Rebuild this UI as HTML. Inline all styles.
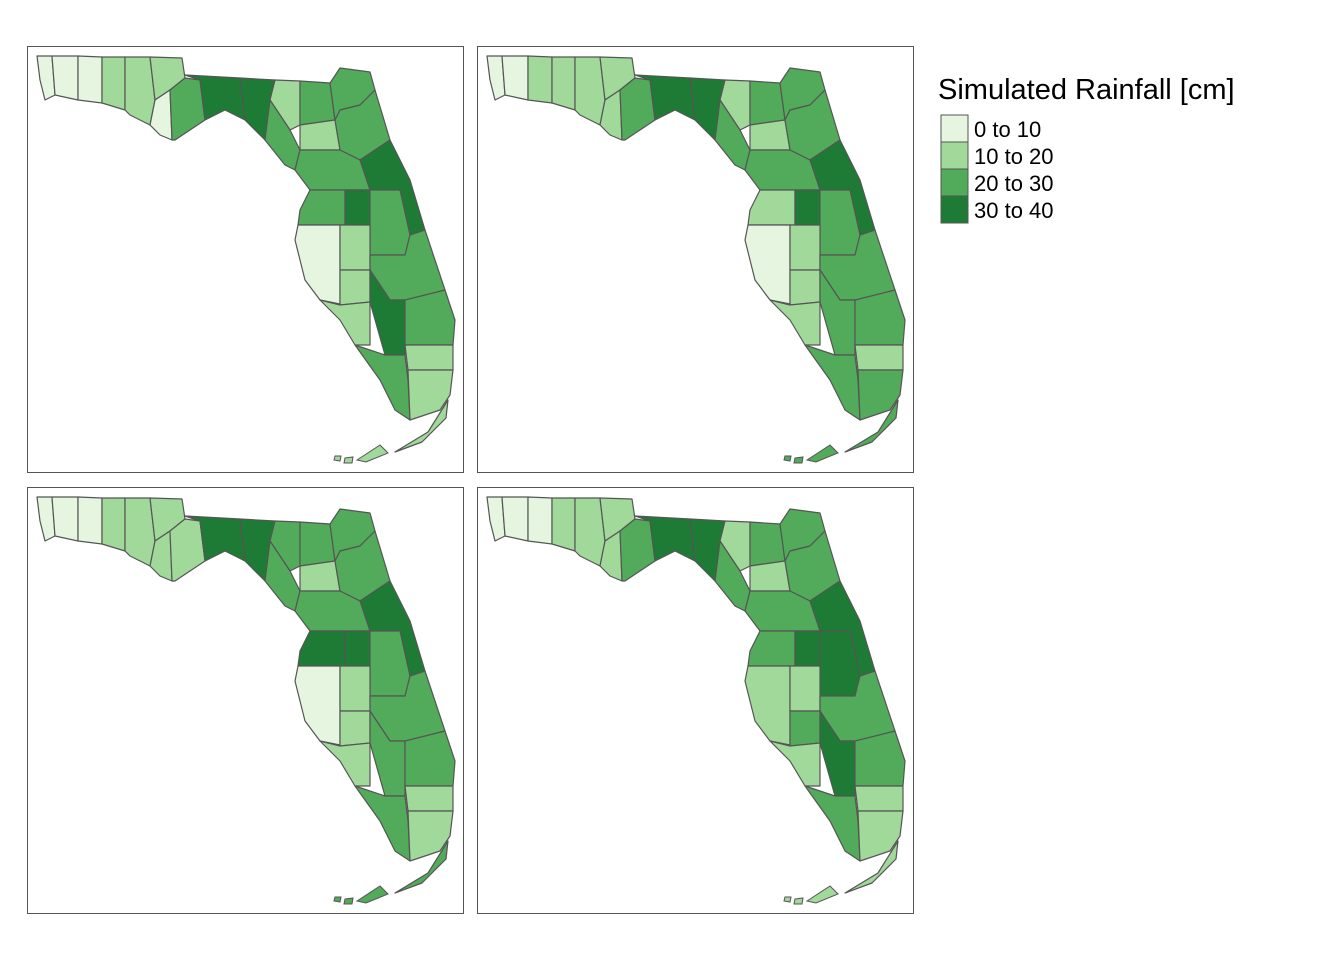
<!DOCTYPE html>
<html><head><meta charset="utf-8">
<style>
body{margin:0;background:#fff;font-family:"Liberation Sans",sans-serif;}
svg{display:block}
</style></head>
<body>
<svg id="chart" width="1344" height="960" viewBox="0 0 1344 960" xmlns="http://www.w3.org/2000/svg">
<rect width="1344" height="960" fill="#fff"/>
<g id="panels"></g>
<g>
<text x="938" y="99" font-size="29" fill="#000">Simulated Rainfall [cm]</text>
<g id="legend-items"></g>
</g>
</svg>
<script>
// Class labels and colours
const classLabels = ["0 to 10","10 to 20","20 to 30","30 to 40"];
const classColors = ["#e5f5e0","#a1d99b","#52ab5a","#1e7b36"];
// Class index per region, per panel (regions listed in the same order as shapes below)
const panel1Values = [0,0,0,1,1,1,0,2,3,3,1,2,2,2,1,2,3,2,2,0,3,2,1,2,1,3,1,2,2,1,1,1];
const panel2Values = [0,0,1,1,1,1,1,2,3,3,1,2,2,2,1,2,3,2,1,0,3,2,1,2,1,2,1,2,2,1,2,2];
const panel3Values = [0,0,0,1,1,1,1,1,3,3,2,2,2,2,1,2,3,2,3,0,3,2,1,2,1,2,1,2,2,1,1,2];
const panel4Values = [0,0,0,1,1,1,1,2,3,3,1,2,2,2,1,2,3,2,2,1,3,3,1,2,2,3,1,2,2,1,1,1];
const panelValues = [panel1Values,panel2Values,panel3Values,panel4Values];

// Region geometry (relative to panel 1 page coords)
const shapes = [
[[37,56],[52,56],[55,95],[45,100],[40,80]],
[[52,56],[78,56],[78,100],[55,95]],
[[78,56],[102,57],[102,103],[78,100]],
[[102,57],[125,57],[125,110],[102,103]],
[[125,57],[150,57],[155,100],[150,125],[130,115],[125,110]],
[[150,57],[182,58],[185,78],[170,90],[155,100]],
[[155,100],[170,90],[172,140],[160,135],[150,125]],
[[170,90],[185,78],[200,80],[205,120],[190,130],[175,140],[172,140]],
[[185,75],[240,78],[245,120],[225,110],[205,120],[200,80]],
[[240,78],[275,80],[270,100],[265,140],[245,120]],
[[275,80],[300,81],[300,125],[290,130],[270,100]],
[[300,81],[330,83],[335,120],[300,125]],
[[330,83],[340,68],[370,72],[375,90],[360,105],[340,110],[335,120]],
[[265,140],[270,100],[290,130],[300,150],[295,170],[285,165]],
[[300,125],[335,120],[340,150],[300,150]],
[[335,120],[340,110],[360,105],[375,90],[390,140],[360,160],[340,150]],
[[360,160],[390,140],[410,180],[425,230],[410,235],[400,190],[370,190]],
[[300,150],[340,150],[360,160],[370,190],[345,190],[310,190],[295,170]],
[[310,190],[345,190],[345,225],[298,225],[300,210]],
[[298,225],[340,225],[340,304],[320,300],[305,280],[295,240]],
[[345,190],[370,190],[370,225],[345,225]],
[[370,190],[400,190],[410,235],[405,255],[370,255],[370,225]],
[[340,225],[370,225],[370,255],[370,270],[340,270]],
[[370,255],[405,255],[410,235],[425,230],[445,290],[410,300],[390,300],[370,270]],
[[340,270],[370,270],[370,302],[340,305]],
[[370,270],[390,300],[405,300],[405,355],[385,355],[370,302]],
[[320,300],[340,305],[370,302],[370,345],[355,345],[340,320]],
[[405,300],[445,290],[455,320],[453,345],[405,345]],
[[355,345],[385,355],[405,355],[408,380],[410,420],[395,410],[380,380]],
[[405,345],[453,345],[453,370],[408,370]],
[[408,370],[453,370],[450,395],[440,410],[410,420]],
[[395,452],[428,432],[448,400],[446,418],[422,442]]
];
const keyShapes = [
[[357,460],[380,445],[388,453],[366,462]],
[[345,458],[353,457],[352,463],[344,463]],
[[335,456],[341,456],[340,461],[334,460]]
];
const offsets = [[0,0],[450,0],[0,441],[450,441]];

const NS="http://www.w3.org/2000/svg";
const panels=document.getElementById('panels');
offsets.forEach((o,pi)=>{
  const g=document.createElementNS(NS,'g');
  
  
  const fr=document.createElementNS(NS,'rect');
  fr.setAttribute('x',27.5+o[0]);fr.setAttribute('y',46.5+o[1]);
  fr.setAttribute('width',436);fr.setAttribute('height',426);
  fr.setAttribute('fill','#fff');fr.setAttribute('stroke','#555');fr.setAttribute('stroke-width','1');
  
  
  g.appendChild(fr);
  const vals=panelValues[pi];
  shapes.forEach((s,i)=>{
    const p=document.createElementNS(NS,'polygon');
    p.setAttribute('points',s.map(q=>(q[0]+o[0])+','+(q[1]+o[1])).join(' '));
    p.setAttribute('fill',classColors[vals[i]]);
    p.setAttribute('stroke','#555');p.setAttribute('stroke-width','1.2');p.setAttribute('stroke-linejoin','round');
    
    
    g.appendChild(p);
  });
  keyShapes.forEach(s=>{
    const p=document.createElementNS(NS,'polygon');
    p.setAttribute('points',s.map(q=>(q[0]+o[0])+','+(q[1]+o[1])).join(' '));
    p.setAttribute('fill',classColors[vals[vals.length-1]]);
    p.setAttribute('stroke','#555');p.setAttribute('stroke-width','1');
    
    
    g.appendChild(p);
  });
  panels.appendChild(g);
});

const li=document.getElementById('legend-items');
classLabels.forEach((lab,i)=>{
  const r=document.createElementNS(NS,'rect');
  r.setAttribute('x',941);r.setAttribute('y',115+i*27);
  r.setAttribute('width',27);r.setAttribute('height',27);
  r.setAttribute('fill',classColors[i]);r.setAttribute('stroke','#555');
  
  
  li.appendChild(r);
  const t=document.createElementNS(NS,'text');
  t.setAttribute('x',974);t.setAttribute('y',137+i*27);
  t.setAttribute('font-size','22');t.setAttribute('fill','#000');
  t.textContent=lab;
  
  
  li.appendChild(t);
});
</script>
</body></html>
